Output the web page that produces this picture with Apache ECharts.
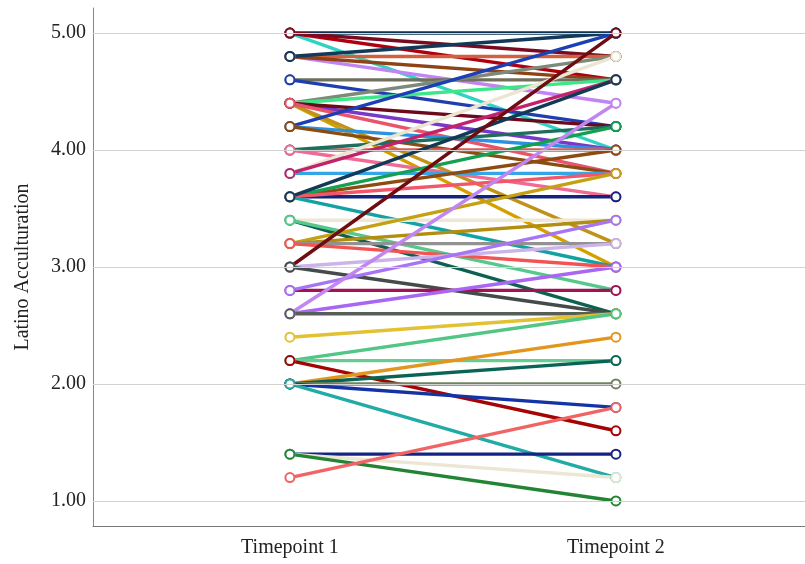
<!DOCTYPE html>
<html>
<head>
<meta charset="utf-8">
<script src="https://cdn.jsdelivr.net/npm/echarts@6/dist/echarts.min.js"></script>
<style>
  html, body { margin: 0; padding: 0; background: #fff; }
  #main { width: 805px; height: 564px; }
</style>
</head>
<body>
<div id="main"></div>
<script>
// one entry per participant: score at timepoint 1 and timepoint 2
var timeLabels = ["Timepoint 1", "Timepoint 2"];
var yTicks = [1, 2, 3, 4, 5];

var t1Values = [
    5.0, 5.0, 5.0, 5.0, 4.8, 4.8, 4.8, 4.8, 4.6, 4.6,
    4.4, 4.4, 4.4, 4.4, 4.4, 4.4, 4.4, 4.2, 4.2, 4.2,
    4.0, 4.0, 4.0, 3.8, 3.8, 3.8, 3.6, 3.6, 3.6, 3.6,
    3.6, 3.6, 3.4, 3.4, 3.4, 3.2, 3.2, 3.2, 3.2, 3.0,
    3.0, 3.0, 2.8, 2.8, 2.6, 2.6, 2.6, 2.4, 2.2, 2.2,
    2.2, 2.0, 2.0, 2.0, 2.0, 2.0, 1.4, 1.4, 1.4, 1.2
];
var t2Values = [
    5.0, 4.0, 4.6, 4.8, 4.8, 4.4, 4.6, 5.0, 4.6, 4.2,
    4.8, 4.6, 3.0, 3.2, 4.0, 4.2, 3.8, 5.0, 4.0, 3.8,
    4.0, 4.2, 3.6, 4.8, 3.8, 4.6, 3.6, 3.0, 4.0, 4.2,
    3.8, 4.6, 3.4, 2.6, 2.8, 3.8, 3.4, 3.2, 3.0, 5.0,
    3.2, 2.6, 2.8, 3.4, 4.4, 3.0, 2.6, 2.6, 2.6, 2.2,
    1.6, 2.4, 2.2, 2.0, 1.8, 1.2, 1.4, 1.2, 1.0, 1.8
];
var lineColors = [
    "#0e3350", "#2fd3c3", "#b00010", "#7a0a20", "#d0603e", "#c184f2", "#8e4216", "#12385a", "#6f6f5c", "#1f3fae",
    "#7d8a78", "#3ee68a", "#d4a000", "#c09218", "#7a38c8", "#6a0a1a", "#e8546a", "#1c3fb4", "#2a92e0", "#8a4c12",
    "#e25656", "#1e6e5e", "#f06a96", "#ebe6d2", "#34a6e6", "#c2226c", "#13247e", "#12a2a2", "#8e4a10", "#14a050",
    "#f2566a", "#123a56", "#ece8d4", "#0e6050", "#56c88c", "#c4a012", "#b28e10", "#929292", "#f25454", "#6e0c12",
    "#cbb4ea", "#454b4b", "#a21256", "#a674f4", "#c286f0", "#a866f2", "#565e58", "#e2c232", "#52c684", "#66cc94",
    "#a40404", "#e2961e", "#0a6454", "#72825e", "#1434a4", "#22aaa4", "#142484", "#ebe7d4", "#228434", "#f06464"
];

var font = '"Liberation Serif", "Times New Roman", serif';
var myChart = echarts.init(document.getElementById("main"));

var series = [{
    // horizontal reference lines
    type: "line",
    data: [],
    z: 1,
    silent: true,
    markLine: {
        silent: true,
        symbol: "none",
        label: { show: false },
        lineStyle: { color: "#d2d2d2", width: 1, type: "solid" },
        data: yTicks.map(function (v) { return { yAxis: v }; })
    }
}];

for (var i = 0; i < t1Values.length; i++) {
    series.push({
        type: "line",
        z: 2,
        data: [[1, t1Values[i]], [2, t2Values[i]]],
        symbol: "emptyCircle",
        symbolSize: 9,
        lineStyle: { color: lineColors[i], width: 3.4 },
        itemStyle: { color: lineColors[i], borderWidth: 2 }
    });
}

option = {
    animation: false,
    grid: { left: 93, right: 0, top: 8, bottom: 38 },
    xAxis: {
        type: "value",
        min: 0.396,
        max: 2.58,
        axisLine: { show: true, lineStyle: { color: "#777", width: 1 } },
        axisTick: { show: false },
        splitLine: { show: false },
        axisLabel: {
            customValues: [1, 2],
            formatter: function (v) { return timeLabels[Math.round(v) - 1]; },
            fontFamily: font,
            fontSize: 20,
            color: "#222",
            margin: 12
        }
    },
    yAxis: {
        type: "value",
        min: 0.786,
        max: 5.214,
        name: "Latino Acculturation",
        nameLocation: "middle",
        nameGap: 60,
        nameTextStyle: { fontFamily: font, fontSize: 20, color: "#222" },
        axisLine: { show: true, lineStyle: { color: "#888", width: 1 } },
        axisTick: { show: false },
        splitLine: { show: false },
        axisLabel: {
            customValues: yTicks,
            formatter: function (v) { return v.toFixed(2); },
            fontFamily: font,
            fontSize: 20,
            color: "#222",
            margin: 7
        }
    },
    series: series
};
myChart.setOption(option);
window.addEventListener('resize', function() {
    myChart.resize();
})
</script>
</body>
</html>
